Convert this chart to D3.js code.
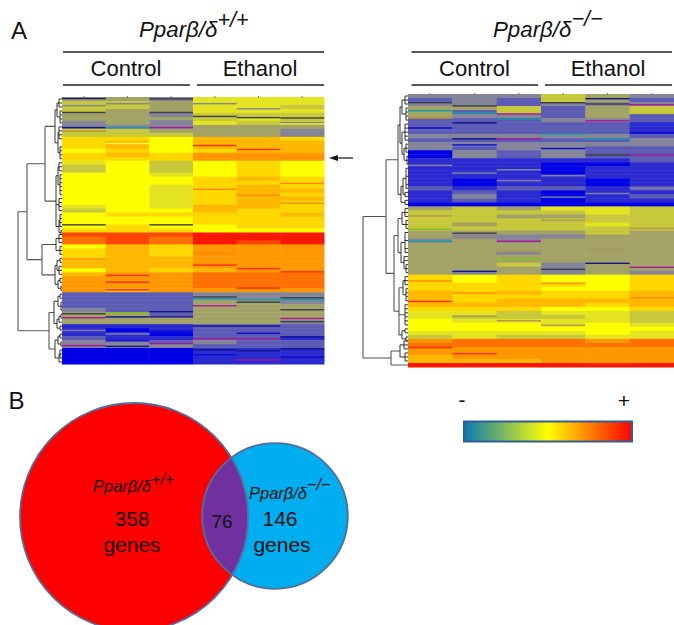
<!DOCTYPE html>
<html>
<head>
<meta charset="utf-8">
<script src="https://cdn.jsdelivr.net/npm/d3@7"></script>
<style>
    html, body { margin: 0; padding: 0; background: #fff; }
    svg { display: block; }
    text { font-family: "Liberation Sans", Arial, sans-serif; fill: #111; }
</style>
</head>
<body>
<div id="chart"></div>
<script>
// heatmap levels: 0 = lowest (blue) ... 12 = highest (red)
const samples = ["c1", "c2", "c3", "e1", "e2", "e3"];
const levelColors = ["#0000e6", "#2a2ad0", "#5c5cb4", "#85859a", "#a3a368", "#c8c83c", "#e4e420",
    "#ffff00", "#ffd800", "#ffb800", "#ff9800", "#ff7000", "#f81800"];

const wildRows = [
    [4,4,3,6,6,6],[5,5,4,6,6,6],[5,5,4,6,6,5],[5,4,4,6,6,6],[4,4,3,5,5,5],[4,4,4,5,6,5],
    [3,4,3,6,5,6],[3,3,3,4,4,4],[5,5,4,4,4,3],[5,5,5,4,4,3],[8,8,7,9,9,8],[8,9,7,9,9,9],
    [8,9,7,9,9,9],[7,8,7,8,9,9],[8,9,8,10,10,10],[8,8,8,10,10,10],[6,7,5,7,8,7],[5,7,5,7,8,7],
    [5,7,5,7,8,7],[7,7,6,7,8,7],[7,7,7,8,9,8],[7,7,7,8,8,8],[7,7,6,8,9,8],[7,7,6,8,9,9],
    [7,7,6,8,9,8],[7,7,6,8,9,9],[7,7,6,8,9,8],[6,7,6,9,9,8],[5,7,7,9,8,8],[7,8,8,8,8,9],
    [7,7,7,8,8,8],[7,7,7,8,8,8],[7,8,7,7,8,8],[8,8,8,7,7,7],[11.5,11.5,11.5,12,12,12],[11,11.5,11,12,12,12],
    [11,11.5,11,12,11.5,12],[7,9,8,10,10,10],[8,9,8,10,10,10],[8,9,8,10,10,10],[8,9,9,10,10,10],[9,9,9,10,10,10],
    [9,9,9,10,10,10],[7,9,8,9,10,10],[9,10,10,11,11,11],[10,10,10,11,11,11],[10,10,10,11,11,11],[10,10,10,11,11,11],
    [10,9,10,10,10,10],[2,2,2,3,3,3],[2,2,2,3,3,3],[2,2,2,4,4,3],[2,2,2,4,4,4],[3,2,2,4,4,4],
    [4,4,2,4,4,4],[4,4,4,4,4,4],[4,4,4,4,4,3],[1,1,1,2,2,2],[1,0,1,2,2,2],[1,1,0,2,2,2],
    [2,1,1,2,2,1],[3,3,2,3,2,2],[3,3,3,2,2,2],[0,0,0,1,1,1],[0,0,0,1,1,1],[0,0,0,1,1,1],[0,0,0,1,1,1]
];

const nullRows = [
    [3,3,3,5,4,3],[2,3,2,5,4,2],[3,3,2,3,3,3],[4,4,5,2,4,5],[4,2,5,2,4,5],[4,3,3,2,4,2],
    [2,2,2,3,3,2],[2,2,2,2,2,1],[2,2,2,2,2,1],[2,2,2,2,2,1],[3,3,3,3,3,2],[2,2,2,2,2,3],
    [3,3,3,3,3,3],[3,2,3,3,2,2],[0,3,2,3,2,2],[0,3,2,3,2,2],[1,1,1,1,1,2],[1,1,1,0,0,1],
    [1,1,1,0,1,1],[1,1,1,0,1,1],[1,1,1,1,1,1],[1,0,1,1,0,1],[1,0,1,1,0,1],[2,1,2,2,1,2],
    [1,2,1,0,1,1],[1,3,1,0,1,2],[1,2,1,0,1,1],[0,0,0,0,0,0],[4,5,4,6,6,5],[5,5,5,5,6,5],
    [5,5,4,4,5,5],[5,5,5,5,5,5],[5,4,5,5,6,5],[5,5,5,5,5,5],[4,4,4,4,5,4],[4,3,3,3,4,4],
    [3,4,3,4,4,4],[4,4,4,4,4,4],[4,4,4,4,4,4],[4,4,3,4,4,4],[4,4,4,4,4,4],[4,4,4,4,4,4],
    [4,4,5,3,4,4],[4,4,4,3,4,4],[4,3,4,3,4,3],[8,7,8,7,7,8],[8,7,8,7,7,8],[8,8,8,8,7,8],
    [8,8,8,7,7,8],[9,8,9,8,8,9],[9,8,8,8,8,9],[9,8,9,9,9,9],[9,9,9,9,8,9],[8,8,8,7,7,8],
    [6,6,5,6,6,5],[6,5,5,5,6,5],[7,6,6,6,6,5],[7,7,7,6,7,6],[7,7,7,7,7,7],[6,6,6,6,7,6],
    [5,6,5,5,6,6],[10,11,11,11,10,11],[11,11,11,11,11,11],[10,10,10,10,10,10],[10,10,10,10,10,10],
    [9,10,10,10,10,10],[9,9,9,10,10,10],[12,12,12,12,12,12]
];

// single outlier genes: [row, sample index, kind]
const wildStripes = [
    [0.2,0,"n"],[0.3,2,"k"],[3.7,0,"k"],[3.7,2,"k"],[4.7,3,"k"],[5,4,"k"],[5.1,5,"k"],[7.5,0,"n"],[7.5,1,"t"],
    [7.5,2,"p"],[8.4,0,"o"],[12,3,"r"],[13,4,"r"],[31.9,0,"k"],[31.9,2,"k"],[42,3,"r"],[42.9,4,"r"],[43.7,5,"r"],
    [44.6,1,"r"],[46.3,1,"r"],[48.2,1,"r"],[47.8,4,"r"],[50,3,"k"],[50.2,5,"k"],[50.4,3,"t"],[50.7,4,"t"],
    [50.7,5,"t"],[52.2,3,"p"],[51.3,4,"k"],[53.2,5,"k"],[54.2,0,"k"],[54,1,"g"],[53.7,2,"n"],[55,1,"n"],[55,2,"n"],
    [55.2,0,"p"],[55.4,5,"p"],[56.2,5,"k"],[57.3,3,"n"],[57.3,4,"n"],[60.5,3,"p"],[60.5,4,"p"],[60,5,"n"],
    [62.2,0,"p"],[61.7,2,"p"],[62.4,1,"n"],[63.3,3,"n"],[63.5,4,"n"],[63,5,"n"],[65.8,4,"p"],
    [1.5,3,"s"],[2.8,4,"s"],[6.2,5,"s"],[2,0,"s"],[1.5,1,"s"],[5.8,2,"s"],[11.5,1,"y"],[14.6,4,"o2"],[15.2,5,"o2"],
    [23,3,"o2"],[24.5,4,"o2"],[21.5,5,"o2"],[26.5,5,"o2"],[39,3,"o2"],[40.5,0,"o2"],[58.4,0,"s"],[59.3,1,"s"],
    [58.6,2,"b"],[64.5,3,"b"],[65.1,5,"b"],[61,1,"b"],[59.1,4,"b"]
];
const nullStripes = [
    [2,0,"k"],[2.8,1,"k"],[2,3,"k"],[1,4,"n"],[2.3,4,"k"],[2.5,5,"p"],[4,0,"t"],[5.8,0,"o"],[4.5,1,"t"],[4.8,2,"p"],
    [6,2,"t"],[7,1,"n"],[6.5,4,"p"],[9.8,3,"t"],[11,4,"t"],[11,1,"n"],[11,2,"p"],[15,5,"p"],[15,4,"k"],[33.5,0,"g"],
    [34.5,1,"k"],[36.5,0,"t"],[36.5,2,"p"],[41,2,"g"],[44,1,"n"],[42,4,"n"],[43,5,"p"],[43.5,3,"k"],[51.5,0,"r"],
    [63,0,"r"],[64.5,1,"r"],[67,4,"r"],
    [8.3,0,"b"],[12.5,1,"b"],[9.5,5,"b"],[13.4,3,"b"],[17.6,0,"s"],[19.5,1,"s"],[21.4,2,"s"],[20.2,3,"s"],[23.3,5,"s"],
    [24.6,4,"s"],[25.5,3,"s"],[18.7,2,"s"],[30.2,0,"o3"],[32.2,1,"o3"],[31.3,3,"o3"],[33.3,5,"o3"],[39,2,"o3"],[38.4,4,"o3"],
    [47,3,"o2"],[50.6,5,"o2"],[49.4,1,"o2"],[46.4,0,"o2"],[56.3,2,"o3"],[55.2,1,"o3"],[57.4,3,"o3"]
];
const stripeColors = {n: "#14148c", k: "#3c3c48", t: "#1a9aa8", p: "#a8189c", g: "#80c020", o: "#c09020", r: "#ff2a00",
    s: "#8484a0", b: "#0a0ad8", y: "#ffff30", o2: "#ff8800", o3: "#b09a50"};

// dendrograms: [merge height, child, child, ...], a bare number is a leaf row
const wildTree = [44,
    [35,
        [17,
            [7, [5, [3, 0, 1, 2], [2, 3, 4, 5, 6]], [4, [3, 7, 8, 9, 10], [2, 12, 13, 14, 15]]],
            [6, [4, [3, 16, 17, 18], [2, 19, 20, 21, 22, 23, 24]], [3, 25, 26, 27, 28], [3, [2, 29, 30, 31, 32], [1, 33, 34]]]],
        [20,
            [6, [3, 34, 35, 36], [2, 37, 38, 39]],
            [7, [5, [2, 40, 41], [3, 42, 43, 44]], [4, [2, 45, 46], [1, 47, 48]]]]],
    [13,
        [8, [4, [2, 49, 50], [1, 51, 52, 53]], [5, [3, [1, 54, 55], 56], [2, 57, 58]]],
        [7, [4, [2, 59, 60], [1, 61, 62]], [3, [2, 63, 64, 65], 66]]]
];
const nullTree = [45,
    [22,
        [10,
            [8, [6, [3, 0, 1, 2], [2, 3, 4, 5, 6]], [6, [3, 7, 8, 9, 10, 11], [4, [2, 12, 13, 14], [1, 15, 16, 17]]]],
            [7, [5, [2, 18, 20, 22, 23], [3, 24, 25]], [3, 26, 27]]],
        [14,
            [10, [6, [3, 28, 29, 30], [2, 31, 32, 33]], [7, [3, 34, 36, 38, 39], [4, 40, 41, [2, 42, 43, 44]]]],
            [9, [5, [3, 45, 46, 47], [2, 48, 49, 50, 51]], [3, 52, 53, 54, 55, 56, 57], [6, [3, 58, 59], [2, 60, 61]]]]],
    [17,
        [8, [4, 61, 62, 63], [3, 64, 65, 66]],
        67]
];

const vennCounts = {wild: 358, shared: 76, nul: 146};
const legendStops = ["#0a78b4", "#ffff00", "#ff0000"];

const width = 674;
const height = 625;

const svg = d3.select("#chart")
    .append("svg")
    .attr("width", width)
    .attr("height", height);

const defs = svg.append("defs");
defs.append("filter").attr("id", "soft")
    .attr("x", "-2%").attr("y", "-2%").attr("width", "104%").attr("height", "104%")
    .append("feGaussianBlur").attr("stdDeviation", 0.45);

const levelColor = d3.scaleLinear().domain(d3.range(levelColors.length)).range(levelColors);

function drawHeatmap(rows, stripes, tree, box) {
    const xCol = d3.scaleBand().domain(samples).range([box.left, box.right]);
    const yRow = d3.scaleLinear().domain([0, rows.length]).range([box.top, box.bottom]);
    const xTree = d3.scaleLinear().domain([0, tree[0]]).range([box.left, box.rootX]);

    const g = svg.append("g").attr("filter", "url(#soft)");

    g.selectAll("g.row")
        .data(rows)
        .join("g")
        .attr("class", "row")
        .selectAll("rect")
        .data((r, i) => r.map((v, j) => ({v, i, j})))
        .join("rect")
        .attr("x", d => xCol(samples[d.j]))
        .attr("y", d => yRow(d.i))
        .attr("width", xCol.bandwidth() + 0.5)
        .attr("height", yRow(1) - yRow(0) + 0.5)
        .attr("fill", d => levelColor(d.v));

    g.selectAll("rect.stripe")
        .data(stripes)
        .join("rect")
        .attr("class", "stripe")
        .attr("x", d => xCol(samples[d[1]]))
        .attr("y", d => yRow(d[0]))
        .attr("width", xCol.bandwidth())
        .attr("height", 1.4)
        .attr("fill", d => stripeColors[d[2]]);

    // small column ticks along the top edge
    g.selectAll("line.tick")
        .data(samples)
        .join("line")
        .attr("class", "tick")
        .attr("x1", d => xCol(d) + xCol.bandwidth() / 2)
        .attr("x2", d => xCol(d) + xCol.bandwidth() / 2)
        .attr("y1", box.top - 1)
        .attr("y2", box.top + 1)
        .attr("stroke", "#777");

    const root = d3.hierarchy(tree, d => Array.isArray(d) ? d.slice(1) : null);
    root.eachAfter(n => {
        if (n.children) {
            n.px = xTree(n.data[0]);
            n.py = (n.children[0].py + n.children[n.children.length - 1].py) / 2;
        } else {
            n.px = xTree(0);
            n.py = yRow(n.data + 0.5);
        }
    });

    const t = svg.append("g").attr("fill", "none");
    t.selectAll("path")
        .data(root.descendants().filter(n => n.children))
        .join("path")
        .attr("stroke", d => d.data[0] > 8 ? "#555" : "#1c1c1c")
        .attr("stroke-width", d => d.data[0] > 8 ? 1.1 : 0.9)
        .attr("d", n => n.children.map(c =>
            `M${c.px},${c.py}H${n.px}`).join("") +
            `M${n.px},${n.children[0].py}V${n.children[n.children.length - 1].py}`);
}

drawHeatmap(wildRows, wildStripes, wildTree, {left: 62, right: 324, top: 97, bottom: 364, rootX: 18});
drawHeatmap(nullRows, nullStripes, nullTree, {left: 408, right: 674, top: 94, bottom: 367, rootX: 363});

function genotype(parent, x, y, size, supSize, sup, rise) {
    const t = parent.append("text")
        .attr("x", x)
        .attr("y", y)
        .attr("font-size", size)
        .attr("font-style", "italic");
    t.append("tspan").text("Pparβ/δ");
    t.append("tspan")
        .attr("dy", -rise)
        .attr("font-size", supSize)
        .text(sup);
}

function header(x0, x1, x2, x3, controlX, ethanolX) {
    const h = svg.append("g");
    h.append("line").attr("x1", x0).attr("x2", x3).attr("y1", 52).attr("y2", 52);
    h.append("line").attr("x1", x0).attr("x2", x1).attr("y1", 85).attr("y2", 85);
    h.append("line").attr("x1", x2).attr("x2", x3).attr("y1", 85).attr("y2", 85);
    h.selectAll("line").attr("stroke", "#222").attr("stroke-width", 1.3);
    h.append("text").attr("x", controlX).attr("y", 76).attr("font-size", 22).attr("text-anchor", "middle").text("Control");
    h.append("text").attr("x", ethanolX).attr("y", 76).attr("font-size", 22).attr("text-anchor", "middle").text("Ethanol");
}

genotype(svg, 139, 37, 22.3, 21.5, "+/+", 10);
genotype(svg, 493, 37, 22.3, 21.5, "−/−", 11);
header(63, 190, 197, 324, 126, 260);
header(411.5, 538, 545, 672, 474.5, 608);

svg.append("text").attr("x", 11).attr("y", 39).attr("font-size", 24).text("A");
svg.append("text").attr("x", 8.5).attr("y", 409).attr("font-size", 24).text("B");

// arrow next to the left heatmap
svg.append("line").attr("x1", 353).attr("x2", 336).attr("y1", 158).attr("y2", 158)
    .attr("stroke", "#111").attr("stroke-width", 1.2);
svg.append("path").attr("d", d3.line()([[329, 158], [338, 155], [338, 161]])).attr("fill", "#111");

// colour key
const grad = defs.append("linearGradient").attr("id", "key");
grad.selectAll("stop")
    .data(legendStops)
    .join("stop")
    .attr("offset", (d, i) => i / (legendStops.length - 1))
    .attr("stop-color", d => d);
svg.append("rect")
    .attr("x", 464).attr("y", 421.5).attr("width", 168).attr("height", 20)
    .attr("fill", "url(#key)")
    .attr("stroke", "#2f5f94").attr("stroke-width", 2);
svg.append("text").attr("x", 462).attr("y", 407).attr("font-size", 21).attr("text-anchor", "middle").text("-");
svg.append("text").attr("x", 624).attr("y", 408).attr("font-size", 21).attr("text-anchor", "middle").text("+");

// venn diagram, areas scale with the gene counts
const rScale = d3.scaleSqrt().domain([0, vennCounts.wild]).range([0, 114]);
const bigC = {cx: 134, cy: 517, r: rScale(vennCounts.wild)};
const smallC = {cx: 275, cy: 516, r: rScale(vennCounts.nul)};

defs.append("clipPath").attr("id", "bigClip")
    .append("circle").attr("cx", bigC.cx).attr("cy", bigC.cy).attr("r", bigC.r);

const venn = svg.append("g");
venn.append("circle").attr("cx", bigC.cx).attr("cy", bigC.cy).attr("r", bigC.r).attr("fill", "#ff0000");
venn.append("circle").attr("cx", smallC.cx).attr("cy", smallC.cy).attr("r", smallC.r).attr("fill", "#00aeef");
venn.append("circle").attr("cx", smallC.cx).attr("cy", smallC.cy).attr("r", smallC.r)
    .attr("fill", "#7030a0").attr("clip-path", "url(#bigClip)");
venn.append("g").attr("filter", "url(#soft)")
    .selectAll("circle.edge")
    .data([bigC, smallC])
    .join("circle")
    .attr("class", "edge")
    .attr("cx", d => d.cx).attr("cy", d => d.cy).attr("r", d => d.r)
    .attr("fill", "none")
    .attr("stroke", "#4f6f9f")
    .attr("stroke-width", 1.8);

genotype(svg, 93, 492, 16.5, 16, "+/+", 7);
genotype(svg, 249, 499, 16.5, 16, "−/−", 9);

const vennText = svg.append("g").attr("text-anchor", "middle").attr("font-size", 21);
vennText.append("text").attr("x", 132).attr("y", 526).text(vennCounts.wild);
vennText.append("text").attr("x", 132).attr("y", 552).text("genes");
vennText.append("text").attr("x", 222).attr("y", 528).attr("font-size", 19).text(vennCounts.shared);
vennText.append("text").attr("x", 280).attr("y", 526).text(vennCounts.nul);
vennText.append("text").attr("x", 282).attr("y", 552).text("genes");
</script>
</body>
</html>
